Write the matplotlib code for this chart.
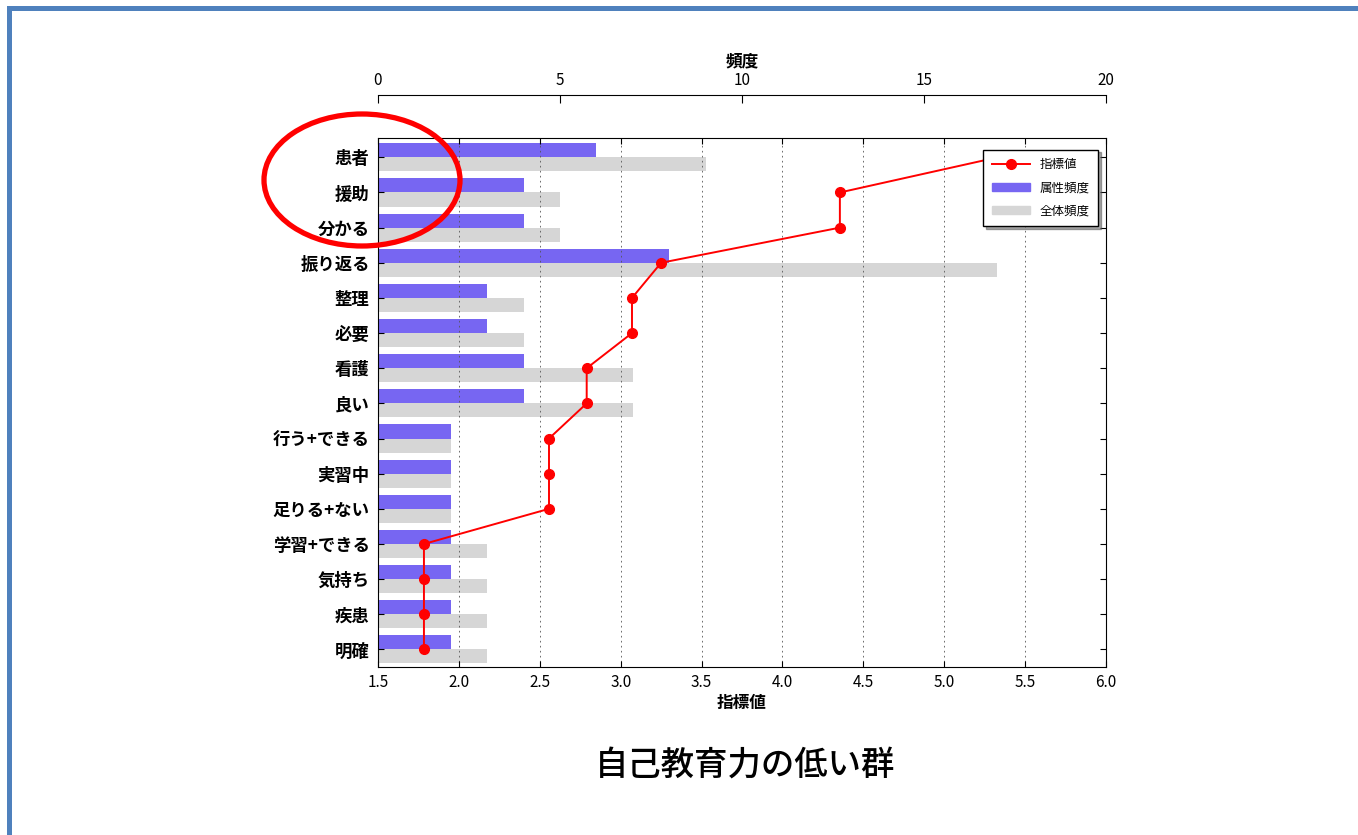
import matplotlib
matplotlib.use("Agg")
import matplotlib.pyplot as plt
from matplotlib.patches import Ellipse, Rectangle, Patch
from matplotlib.lines import Line2D
import numpy as np

plt.rcParams['font.family'] = ['Noto Sans CJK JP', 'DejaVu Sans']

# Words, ordered from the highest index value downwards
words = ['患者', '援助', '分かる', '振り返る', '整理', '必要', '看護', '良い',
         '行う+できる', '実習中', '足りる+ない', '学習+できる', '気持ち', '疾患', '明確']
index_values = [5.33, 4.355, 4.355, 3.25, 3.07, 3.07, 2.79, 2.79,
                2.557, 2.557, 2.557, 1.784, 1.784, 1.784, 1.784]
group_freq = [6, 4, 4, 8, 3, 3, 4, 4, 2, 2, 2, 2, 2, 2, 2]
total_freq = [9, 5, 5, 17, 4, 4, 7, 7, 2, 2, 2, 3, 3, 3, 3]
index_ticks = [1.5, 2.0, 2.5, 3.0, 3.5, 4.0, 4.5, 5.0, 5.5, 6.0]
freq_ticks = [0, 5, 10, 15, 20]

W, H = 1358, 835
fig = plt.figure(figsize=(W / 100, H / 100), dpi=100)
fig.patch.set_facecolor('white')

rect = [378 / W, 1 - 667 / H, (1106 - 378) / W, (667 - 138) / H]
pos = np.arange(len(words))
bar_h = 0.4
blue = '#7766f2'
gray = '#d6d6d6'

# Frequency bars (top axis): group frequency above each word, overall below
ax_bar = fig.add_axes(rect)
ax_bar.barh(pos - bar_h, group_freq, height=bar_h, align='edge', color=blue,
            edgecolor='none')
ax_bar.barh(pos, total_freq, height=bar_h, align='edge', color=gray,
            edgecolor='none')
ax_bar.set_xlim(0, 20)
ax_bar.set_ylim(14.5, -0.55)
ax_bar.set_yticks([])
for s in ['bottom', 'left', 'right']:
    ax_bar.spines[s].set_visible(False)
ax_bar.spines['top'].set_position(('outward', 31))
ax_bar.xaxis.set_ticks_position('top')
ax_bar.xaxis.set_label_position('top')
ax_bar.set_xticks(freq_ticks)
ax_bar.tick_params(axis='x', direction='in', length=6, pad=4, labelsize=11)
ax_bar.set_xlabel('頻度', fontsize=12, labelpad=4, fontweight='bold')

# Index value line (bottom axis)
ax_line = fig.add_axes(rect)
ax_line.patch.set_visible(False)
ax_line.plot(index_values, pos, '-o', color='#ff0000', lw=1.4, ms=7,
             mec='#ff0000', zorder=3)
ax_line.set_xlim(1.5, 6.0)
ax_line.set_ylim(14.5, -0.55)
ax_line.set_xticks(index_ticks)
ax_line.set_xticklabels([f'{t:.1f}' for t in index_ticks])
ax_line.set_yticks(pos)
ax_line.set_yticklabels(words, fontsize=12.5, fontweight='bold')
ax_line.tick_params(axis='both', direction='in', top=True, right=True,
                    labeltop=False, length=4)
ax_line.tick_params(axis='x', labelsize=11, pad=5)
ax_line.tick_params(axis='y', pad=6)
ax_line.grid(axis='x', color='#555555', linestyle=(0, (2, 4)), lw=0.6)
ax_line.set_xlabel('指標値', fontsize=12, labelpad=2, fontweight='bold')

handles = [Line2D([], [], color='#ff0000', marker='o', ms=7, lw=1.4),
           Patch(color=blue), Patch(color=gray)]
leg = ax_line.legend(handles, ['指標値', '属性頻度', '全体頻度'], loc='upper right',
                     bbox_to_anchor=(0.998, 0.99), fontsize=9, fancybox=False,
                     shadow=True, framealpha=1, edgecolor='black',
                     borderpad=0.7, handlelength=3.0, labelspacing=0.8)
leg.get_frame().set_linewidth(1.0)

# Caption under the chart
fig.text(745 / W, 1 - 765 / H, '自己教育力の低い群', fontsize=24,
         fontweight='medium', ha='center', va='center')

# Highlight around the first three words
fig.add_artist(Ellipse((362 / W, 1 - 180 / H), 196 / W, 132 / H,
                       transform=fig.transFigure, fill=False,
                       edgecolor='#ff0000', lw=3.8))

# Slide frame
frame_color = '#4f81bd'
fig.add_artist(Rectangle((7 / W, 1 - 11 / H), 1 - 7 / W, 5 / H,
                         transform=fig.transFigure, color=frame_color, lw=0))
fig.add_artist(Rectangle((7 / W, 0), 5 / W, 1 - 6 / H,
                         transform=fig.transFigure, color=frame_color, lw=0))

fig.savefig('out.png', dpi=100)
